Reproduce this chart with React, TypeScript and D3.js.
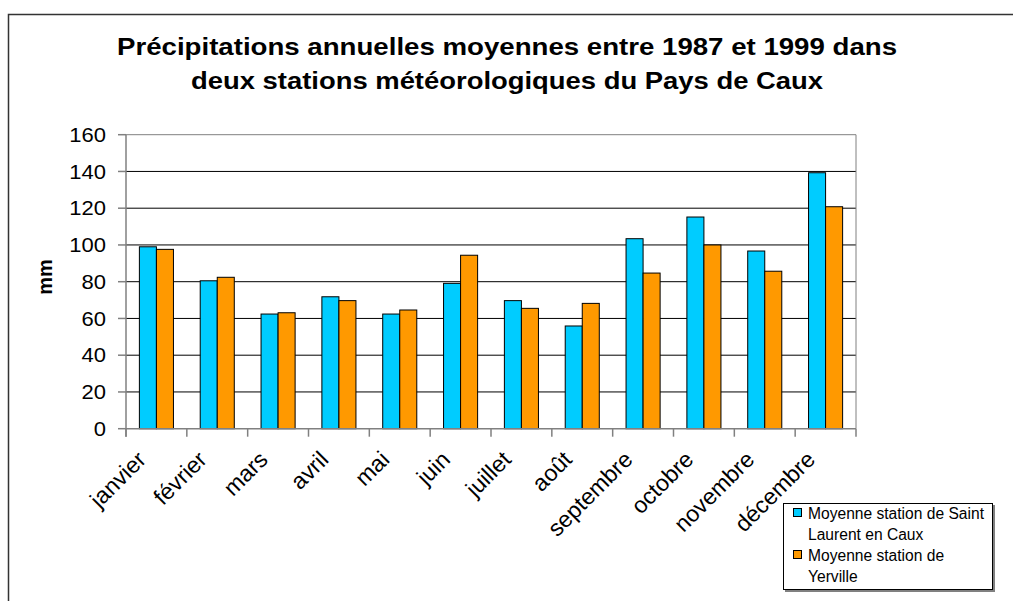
import React from "react";
import * as d3 from "d3";

const months = ["janvier", "février", "mars", "avril", "mai", "juin", "juillet", "août", "septembre", "octobre", "novembre", "décembre"];
const stLaurent = [99.0, 80.5, 62.4, 71.8, 62.4, 79.1, 69.7, 55.9, 103.4, 115.2, 96.7, 139.3];
const yerville = [97.6, 82.4, 63.1, 69.7, 64.6, 94.4, 65.5, 68.2, 84.7, 100.0, 85.7, 120.8];
const yTicks = [0, 20, 40, 60, 80, 100, 120, 140, 160];
const seriesNames = [["Moyenne station de Saint", "Laurent en Caux"], ["Moyenne station de", "Yerville"]];
const colors = ["#00CCFF", "#FF9900"];
const titleLines = ["Précipitations annuelles moyennes entre 1987 et 1999 dans", "deux stations météorologiques du Pays de Caux"];
const titleWidths = [780, 632];

export default function App() {
  const W = 1013, H = 601;
  const left = 126, right = 856, top = 134.7, bottom = 428.7;
  const x = d3.scaleBand<string>().domain(months).range([left, right]).padding(0);
  const y = d3.scaleLinear().domain([0, 160]).range([bottom, top]);
  const bw = x.bandwidth() * 0.28;
  const font = "Arial, 'Liberation Sans', sans-serif";
  const series = [stLaurent, yerville];
  return (
    <svg width={W} height={H} style={{ position: "absolute", left: 0, top: 0, background: "#fff" }} fontFamily={font}>
      <rect x={8.5} y={14.5} width={1100} height={700} fill="#fff" stroke="#333" strokeWidth={1.5} />
      {titleLines.map((t, i) => (
        <text key={i} x={507} y={55 + i * 34} textAnchor="middle" fontSize={23} fontWeight="bold" fill="#000"
          textLength={titleWidths[i]} lengthAdjust="spacingAndGlyphs">{t}</text>
      ))}
      {yTicks.filter((v) => v > 0 && v < 160).map((v) => (
        <line key={v} x1={left} x2={right} y1={y(v)} y2={y(v)} stroke="#000" strokeWidth={1} />
      ))}
      <line x1={left} x2={right} y1={top} y2={top} stroke="#808080" strokeWidth={1} />
      <line x1={right} x2={right} y1={top} y2={bottom} stroke="#808080" strokeWidth={1} />
      {months.map((m, i) => {
        const start = (x(m) as number) + (x.bandwidth() - 2 * bw) / 2;
        return series.map((s, k) => (
          <rect key={m + k} x={start + k * bw} y={y(s[i])} width={bw} height={bottom - y(s[i])} fill={colors[k]} stroke="#000" strokeWidth={1} />
        ));
      })}
      <line x1={left} x2={left} y1={top} y2={bottom + 8} stroke="#808080" strokeWidth={1.5} />
      {yTicks.map((v) => (
        <g key={v}>
          <line x1={left - 8} x2={left} y1={y(v)} y2={y(v)} stroke="#808080" strokeWidth={1.5} />
          <text transform={`translate(106,${y(v)}) scale(1.1,1)`} dy="0.36em" textAnchor="end" fontSize={20} fill="#000">{v}</text>
        </g>
      ))}
      <text transform={`translate(52,277) rotate(-90)`} textAnchor="middle" fontSize={20} fontWeight="bold" fill="#000">mm</text>
      <line x1={left} x2={right} y1={bottom} y2={bottom} stroke="#808080" strokeWidth={1.5} />
      {months.concat(["_end"]).map((m, i) => {
        const xx = left + i * x.bandwidth();
        return <line key={"t" + i} x1={xx} x2={xx} y1={bottom} y2={bottom + 8} stroke="#808080" strokeWidth={1.5} />;
      })}
      {months.map((m) => {
        const cx = (x(m) as number) + x.bandwidth() / 2;
        return (
          <text key={"l" + m} transform={`translate(${cx - 9},${461}) rotate(-45)`} textAnchor="end" fontSize={23} fill="#000">{m}</text>
        );
      })}
      <rect x={785} y={505} width={210} height={87} fill="#808080" />
      <rect x={783.5} y={503.5} width={209} height={86} fill="#fff" stroke="#000" strokeWidth={1} />
      {seriesNames.map((lines, k) => (
        <g key={k}>
          <rect x={793.5} y={508.5 + k * 42} width={8} height={8} fill={colors[k]} stroke="#000" strokeWidth={1} />
          {lines.map((ln, j) => (
            <text key={j} x={808} y={513 + k * 42 + j * 21} dy="0.36em" fontSize={15.6} fill="#000">{ln}</text>
          ))}
        </g>
      ))}
    </svg>
  );
}
